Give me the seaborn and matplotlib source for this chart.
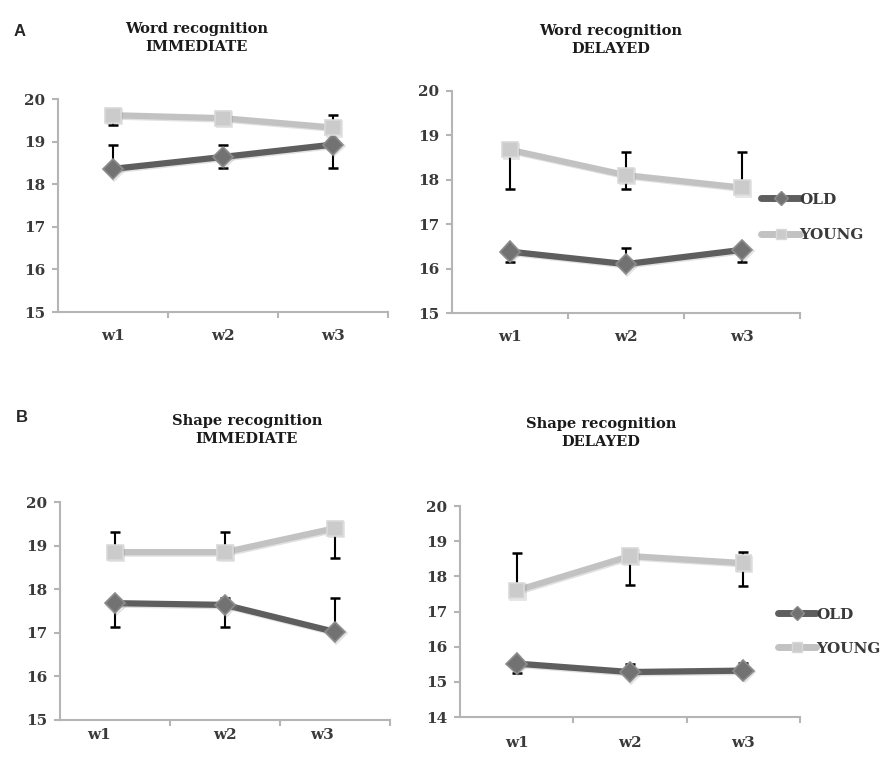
import numpy as np
import pandas as pd
import matplotlib
matplotlib.use("Agg")
import matplotlib.pyplot as plt
import matplotlib.patheffects as pe
from matplotlib.lines import Line2D
import seaborn as sns

# categories and groups
weeks = ["w1", "w2", "w3"]
groups = ["OLD", "YOUNG"]

# word recognition, immediate
word_imm_old = [18.36, 18.64, 18.93]
word_imm_old_lo = [0.0, 0.26, 0.55]
word_imm_old_hi = [0.56, 0.28, 0.0]
word_imm_young = [19.62, 19.55, 19.33]
word_imm_young_lo = [0.22, 0.0, 0.0]
word_imm_young_hi = [0.0, 0.0, 0.29]

# word recognition, delayed
word_del_old = [16.38, 16.10, 16.42]
word_del_old_lo = [0.23, 0.0, 0.27]
word_del_old_hi = [0.0, 0.36, 0.0]
word_del_young = [18.67, 18.10, 17.82]
word_del_young_lo = [0.88, 0.32, 0.0]
word_del_young_hi = [0.0, 0.51, 0.79]

# shape recognition, immediate
shape_imm_old = [17.68, 17.64, 17.02]
shape_imm_old_lo = [0.55, 0.51, 0.0]
shape_imm_old_hi = [0.0, 0.16, 0.78]
shape_imm_young = [18.85, 18.85, 19.40]
shape_imm_young_lo = [0.0, 0.0, 0.68]
shape_imm_young_hi = [0.46, 0.46, 0.0]

# shape recognition, delayed
shape_del_old = [15.52, 15.28, 15.32]
shape_del_old_lo = [0.27, 0.0, 0.0]
shape_del_old_hi = [0.0, 0.24, 0.22]
shape_del_young = [17.60, 18.58, 18.38]
shape_del_young_lo = [0.0, 0.83, 0.65]
shape_del_young_hi = [1.08, 0.0, 0.31]

sns.set_style("white")
plt.rcParams["font.family"] = ["DejaVu Serif"]

line_col = {"OLD": "#5e5e5e", "YOUNG": "#c2c2c2"}
face_col = {"OLD": "#727272", "YOUNG": "#cbcbcb"}
edge_col = {"OLD": "#8c8c8c", "YOUNG": "#d9d9d9"}
markers = {"OLD": "D", "YOUNG": "s"}
msize = {"OLD": 10.5, "YOUNG": 11}
axis_col = "#b5b5b5"
text_col = "#3a3a3a"

fig = plt.figure(figsize=(8.92, 7.64), dpi=100)

panels = [
    dict(rect=[0.065, 0.5916, 0.370, 0.2788], title="Word recognition\nIMMEDIATE",
         title_xy=(197, 38), ymin=15,
         old=(word_imm_old, word_imm_old_lo, word_imm_old_hi),
         young=(word_imm_young, word_imm_young_lo, word_imm_young_hi),
         legend=None, xt=[0, 1, 2], pad=12),
    dict(rect=[0.5067, 0.5903, 0.390, 0.291], title="Word recognition\nDELAYED",
         title_xy=(611, 40), ymin=15,
         old=(word_del_old, word_del_old_lo, word_del_old_hi),
         young=(word_del_young, word_del_young_lo, word_del_young_hi),
         legend=((0.85, 0.43), 1.4), xt=[0, 1, 2], pad=12),
    dict(rect=[0.0673, 0.0576, 0.370, 0.2853], title="Shape recognition\nIMMEDIATE",
         title_xy=(247, 430), ymin=15,
         old=(shape_imm_old, shape_imm_old_lo, shape_imm_old_hi),
         young=(shape_imm_young, shape_imm_young_lo, shape_imm_young_hi),
         legend=None, xt=[-0.15, 1, 1.88], pad=6),
    dict(rect=[0.5157, 0.0615, 0.381, 0.276], title="Shape recognition\nDELAYED",
         title_xy=(601, 433), ymin=14,
         old=(shape_del_old, shape_del_old_lo, shape_del_old_hi),
         young=(shape_del_young, shape_del_young_lo, shape_del_young_hi),
         legend=((0.895, 0.405), 1.3), xt=[0, 1, 2], pad=14),
]

shadow = [pe.SimpleLineShadow(offset=(1, -1), shadow_color="#888888", alpha=0.25), pe.Normal()]

for p in panels:
    ax = fig.add_axes(p["rect"])
    for g, (vals, lo, hi) in zip(groups, [p["old"], p["young"]]):
        df = pd.DataFrame({"pos": np.arange(len(weeks)), "week": weeks, "score": vals})
        ax.errorbar(df["pos"], df["score"], yerr=[lo, hi], fmt="none",
                    ecolor="black", elinewidth=1.5, capsize=3.5, capthick=1.8, zorder=1)
        sns.lineplot(data=df, x="pos", y="score", color=line_col[g], marker=markers[g],
                     linewidth=4.5, markersize=msize[g], markerfacecolor=face_col[g],
                     markeredgecolor=edge_col[g], markeredgewidth=1.2,
                     ax=ax, zorder=3, path_effects=shadow)

    ax.set_xlim(-0.5, 2.5)
    ax.set_ylim(p["ymin"], 20)
    ax.set_yticks(range(p["ymin"], 21))
    ax.set_xticks(p["xt"])
    ax.set_xticklabels(weeks)
    ax.set_xticks([0.5, 1.5, 2.5], minor=True)
    ax.set_xlabel("")
    ax.set_ylabel("")
    for s in ["top", "right"]:
        ax.spines[s].set_visible(False)
    for s in ["left", "bottom"]:
        ax.spines[s].set_color(axis_col)
        ax.spines[s].set_linewidth(1.5)
    ax.tick_params(axis="x", which="major", length=0, pad=p["pad"],
                   labelsize=11, labelcolor=text_col)
    ax.tick_params(axis="x", which="minor", length=4, width=1.5, color=axis_col,
                   direction="out", bottom=True)
    ax.tick_params(axis="y", length=4, width=1.5, color=axis_col, direction="out",
                   pad=5, labelsize=11, labelcolor=text_col, left=True)
    for lab in ax.get_xticklabels() + ax.get_yticklabels():
        lab.set_fontweight("bold")

    fig.text(p["title_xy"][0] / 892, 1 - p["title_xy"][1] / 764, p["title"],
             ha="center", va="center", fontsize=10.5, fontweight="bold",
             color="#1a1a1a", linespacing=1.45)

    if p["legend"] is not None:
        anchor, spacing = p["legend"]
        handles = [Line2D([0], [0], color=line_col[g], lw=5, marker=markers[g],
                          markersize=7, markerfacecolor=face_col[g],
                          markeredgecolor=edge_col[g]) for g in groups]
        leg = ax.legend(handles, groups, loc="center left", bbox_to_anchor=anchor,
                        frameon=False, handlelength=2.5, handletextpad=0.0,
                        labelspacing=spacing, prop={"weight": "bold", "size": 11})
        for t in leg.get_texts():
            t.set_color(text_col)

fig.text(20 / 892, 1 - 32 / 764, "A", ha="center", va="center", fontsize=12,
         fontweight="bold", family=["Liberation Sans"])
fig.text(22 / 892, 1 - 418 / 764, "B", ha="center", va="center", fontsize=12,
         fontweight="bold", family=["Liberation Sans"])

fig.savefig("out.png", dpi=100)
